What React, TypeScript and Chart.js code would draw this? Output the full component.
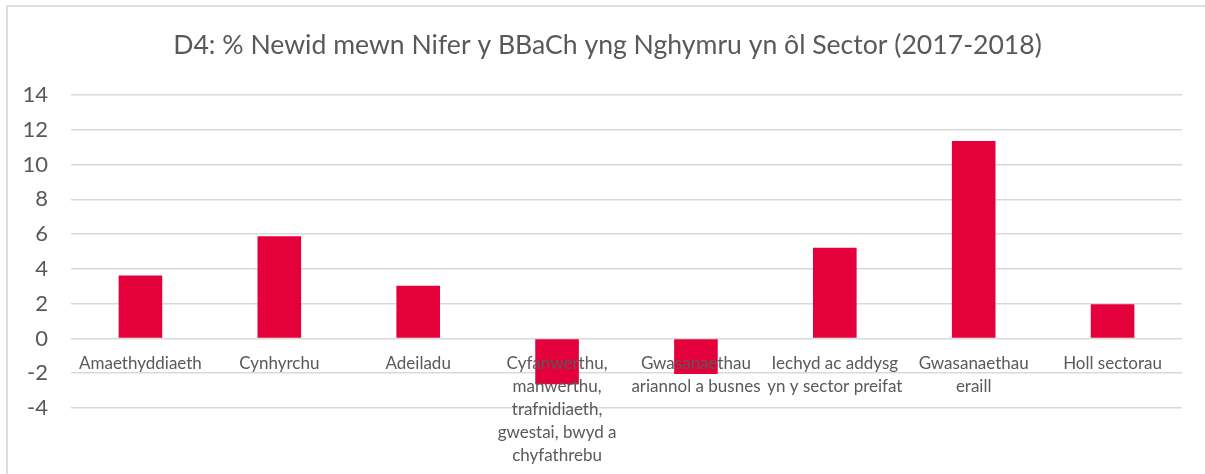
import React, { useEffect, useRef } from "react";
import { Chart, registerables } from "chart.js";

Chart.register(...registerables);

const TITLE = "D4: % Newid mewn Nifer y BBaCh yng Nghymru yn ôl Sector (2017-2018)";
const CATEGORIES: (string | string[])[] = [
  "Amaethyddiaeth",
  "Cynhyrchu",
  "Adeiladu",
  ["Cyfanwerthu,", "manwerthu,", "trafnidiaeth,", "gwestai, bwyd a", "chyfathrebu"],
  ["Gwasanaethau", "ariannol a busnes"],
  ["Iechyd ac addysg", "yn y sector preifat"],
  ["Gwasanaethau", "eraill"],
  "Holl sectorau",
];
const VALUES = [3.62, 5.88, 3.03, -2.63, -2.05, 5.22, 11.35, 1.96];
const Y_MIN = -4;
const Y_MAX = 14;
const Y_STEP = 2;

const FONT = "Lato, 'Open Sans', 'DejaVu Sans', sans-serif";
const TEXT = "#595959";
const GRID = "#d9d9d9";
const BAR = "#E4003B";

export default function App() {
  const ref = useRef<HTMLCanvasElement | null>(null);

  useEffect(() => {
    document.body.style.margin = "0";
    document.body.style.overflow = "hidden";
    const ctx = ref.current!;
    const chart = new Chart(ctx, {
      type: "bar",
      data: {
        labels: CATEGORIES,
        datasets: [
          {
            data: VALUES,
            backgroundColor: BAR,
            borderWidth: 0,
            categoryPercentage: 1,
            barPercentage: 0.314,
          },
        ],
      },
      options: {
        animation: false,
        responsive: false,
        maintainAspectRatio: false,
        layout: { padding: { left: 10, right: 0, top: 0, bottom: 66 } },
        plugins: {
          legend: { display: false },
          tooltip: { enabled: false },
          title: {
            display: true,
            text: TITLE,
            color: TEXT,
            font: { family: FONT, size: 26.6, weight: "normal", lineHeight: 1.2 },
            padding: { top: 29, bottom: 34 },
          },
        },
        scales: {
          x: {
            position: { y: 0 } as any,
            grid: { display: false, drawTicks: false },
            border: { display: false },
            ticks: {
              z: 1,
              color: TEXT,
              font: { family: FONT, size: 17, lineHeight: 1.35 },
              padding: 14,
              autoSkip: false,
              maxRotation: 0,
              minRotation: 0,
            },
          },
          y: {
            min: Y_MIN,
            max: Y_MAX,
            afterFit: (s: any) => {
              s.width = 61;
            },
            grid: { color: GRID, lineWidth: 1.5, drawTicks: false },
            border: { display: false },
            ticks: {
              stepSize: Y_STEP,
              color: TEXT,
              font: { family: FONT, size: 22 },
              padding: 23,
            },
          },
          yr: {
            type: "linear",
            position: "right",
            display: true,
            grid: { display: false, drawTicks: false },
            border: { display: false },
            ticks: { display: false },
            afterFit: (s: any) => {
              s.width = 23;
            },
          },
        },
      },
    });
    return () => chart.destroy();
  }, []);

  return (
    <div style={{ position: "fixed", left: 0, top: 0, width: 1205, height: 474, overflow: "hidden", background: "#fff" }}>
      <div
        style={{
          position: "absolute",
          left: 6,
          top: 5,
          width: 1300,
          height: 600,
          border: "2px solid #dedede",
          boxSizing: "border-box",
        }}
      />
      <canvas ref={ref} width={1205} height={474} style={{ position: "absolute", left: 0, top: 0, width: 1205, height: 474 }} />
    </div>
  );
}
